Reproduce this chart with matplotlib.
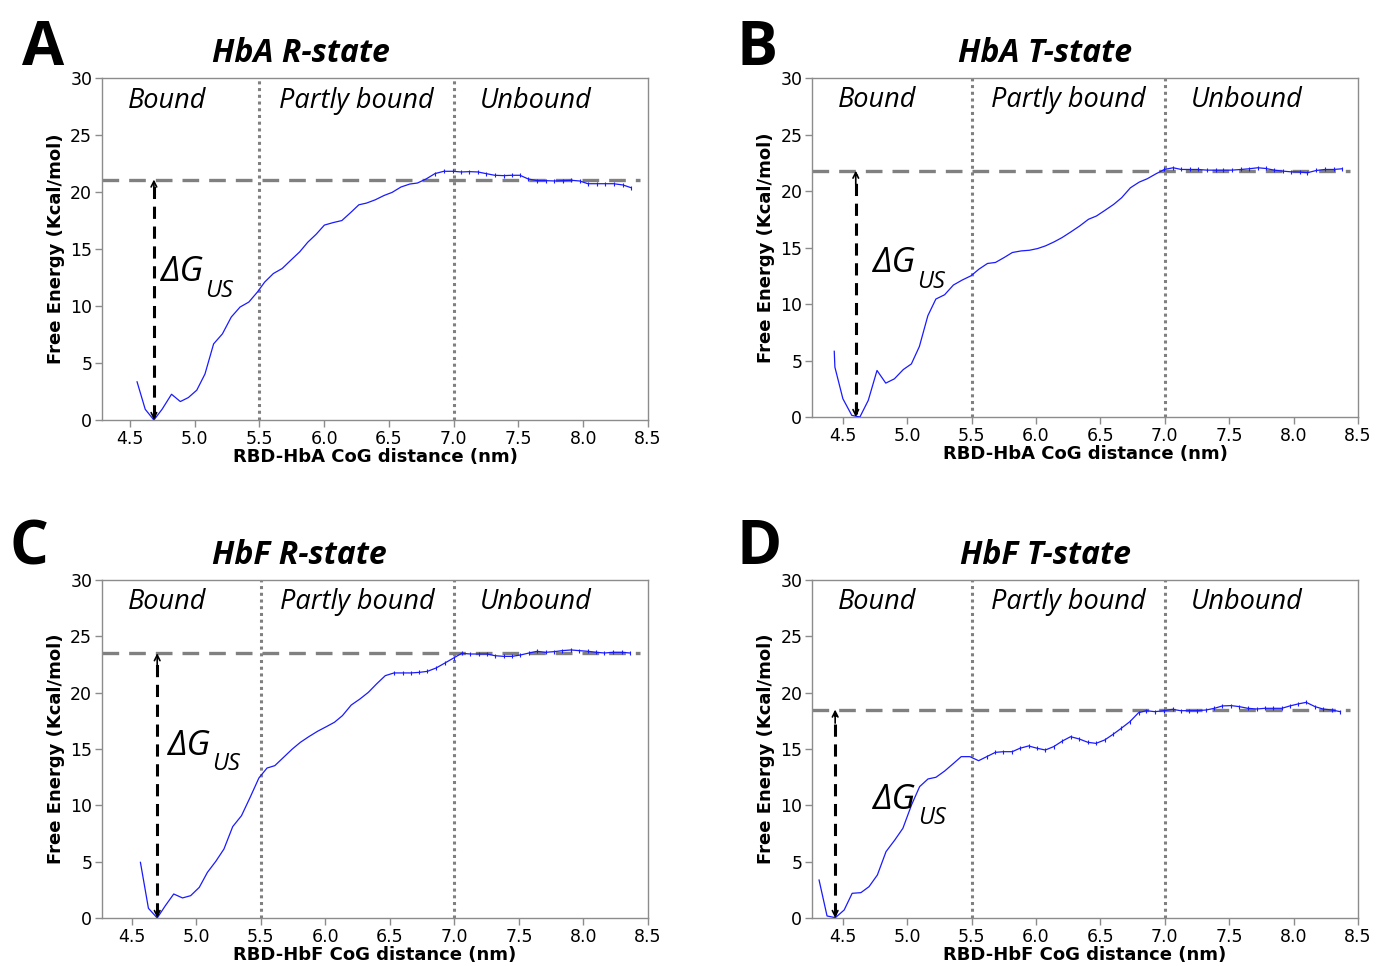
import matplotlib
matplotlib.use("Agg")
import matplotlib.pyplot as plt

# ---- data ----
x_a = [4.556, 4.619, 4.686, 4.749, 4.822, 4.890, 4.952, 5.017, 5.080, 5.147, 5.215, 5.283, 5.351, 5.419,
       5.486, 5.541, 5.608, 5.676, 5.744, 5.812, 5.874, 5.939, 6.002, 6.070, 6.137, 6.205, 6.268, 6.327,
       6.395, 6.463, 6.525, 6.593, 6.661, 6.720, 6.788, 6.856, 6.924, 6.992, 7.060, 7.122, 7.187, 7.249,
       7.317, 7.385, 7.447, 7.512, 7.575, 7.643, 7.710, 7.778, 7.841, 7.908, 7.973, 8.036, 8.104, 8.172,
       8.234, 8.307, 8.370]
y_a = [3.35, 0.94, 0.0, 0.94, 2.26, 1.62, 1.97, 2.62, 4.03, 6.68, 7.56, 9.03, 9.91, 10.35,
       11.24, 12.1, 12.85, 13.29, 14.03, 14.76, 15.6, 16.3, 17.1, 17.32, 17.5, 18.2, 18.88, 19.03,
       19.32, 19.7, 19.97, 20.44, 20.7, 20.79, 21.15, 21.62, 21.82, 21.82, 21.76, 21.79, 21.76, 21.62,
       21.47, 21.44, 21.47, 21.47, 21.15, 21.0, 21.0, 20.97, 21.0, 21.03, 20.97, 20.73, 20.73, 20.73,
       20.73, 20.62, 20.38]

x_b = [4.433, 4.438, 4.500, 4.569, 4.632, 4.697, 4.765, 4.833, 4.900, 4.969, 5.032, 5.094, 5.160, 5.222,
       5.290, 5.358, 5.426, 5.495, 5.557, 5.623, 5.685, 5.753, 5.816, 5.884, 5.949, 6.012, 6.074, 6.140,
       6.202, 6.270, 6.339, 6.407, 6.469, 6.535, 6.603, 6.665, 6.733, 6.801, 6.864, 6.932, 6.997, 7.065,
       7.128, 7.196, 7.259, 7.327, 7.395, 7.455, 7.523, 7.591, 7.654, 7.722, 7.782, 7.850, 7.918, 7.980,
       8.048, 8.108, 8.176, 8.244, 8.312, 8.375]
y_b = [5.82, 4.41, 1.62, 0.15, 0.0, 1.47, 4.12, 3.0, 3.38, 4.2, 4.7, 6.24, 8.97, 10.44,
       10.82, 11.68, 12.12, 12.5, 13.09, 13.59, 13.68, 14.12, 14.56, 14.7, 14.76, 14.91, 15.15, 15.5,
       15.88, 16.38, 16.91, 17.5, 17.79, 18.29, 18.82, 19.41, 20.29, 20.79, 21.09, 21.53, 21.91, 22.06,
       21.91, 21.91, 21.91, 21.85, 21.85, 21.85, 21.85, 21.91, 21.97, 22.06, 22.0, 21.85, 21.76, 21.7,
       21.68, 21.62, 21.82, 21.91, 21.91, 21.97]

x_c = [4.568, 4.630, 4.698, 4.761, 4.826, 4.894, 4.957, 5.024, 5.087, 5.152, 5.215, 5.283, 5.351, 5.418,
       5.486, 5.549, 5.609, 5.677, 5.745, 5.807, 5.872, 5.940, 6.008, 6.071, 6.133, 6.201, 6.269, 6.334,
       6.397, 6.465, 6.533, 6.601, 6.663, 6.728, 6.791, 6.859, 6.927, 6.995, 7.057, 7.125, 7.190, 7.253,
       7.315, 7.383, 7.448, 7.511, 7.579, 7.641, 7.707, 7.774, 7.837, 7.905, 7.967, 8.035, 8.100, 8.163,
       8.231, 8.299, 8.361]
y_c = [4.94, 0.86, 0.0, 1.09, 2.13, 1.78, 1.98, 2.72, 4.05, 5.03, 6.12, 8.11, 9.08, 10.71,
       12.43, 13.31, 13.52, 14.26, 15.0, 15.59, 16.09, 16.57, 16.98, 17.37, 17.96, 18.9, 19.44, 20.03,
       20.77, 21.51, 21.75, 21.75, 21.75, 21.8, 21.89, 22.19, 22.63, 23.08, 23.49, 23.43, 23.43, 23.43,
       23.28, 23.22, 23.22, 23.34, 23.52, 23.67, 23.58, 23.64, 23.73, 23.79, 23.73, 23.67, 23.58, 23.52,
       23.58, 23.58, 23.52]

x_d = [4.315, 4.377, 4.442, 4.510, 4.572, 4.640, 4.703, 4.768, 4.835, 4.903, 4.966, 5.033, 5.096, 5.161,
       5.223, 5.291, 5.354, 5.419, 5.486, 5.554, 5.617, 5.684, 5.747, 5.815, 5.874, 5.942, 6.010, 6.072,
       6.137, 6.205, 6.268, 6.335, 6.403, 6.466, 6.533, 6.598, 6.661, 6.729, 6.796, 6.856, 6.924, 6.992,
       7.060, 7.122, 7.190, 7.252, 7.320, 7.385, 7.447, 7.515, 7.578, 7.645, 7.713, 7.778, 7.841, 7.908,
       7.971, 8.036, 8.098, 8.166, 8.228, 8.296, 8.364]
y_d = [3.37, 0.18, 0.03, 0.71, 2.19, 2.25, 2.78, 3.82, 5.89, 6.92, 7.96, 10.03, 11.66, 12.34,
       12.49, 13.05, 13.67, 14.32, 14.32, 13.96, 14.32, 14.7, 14.76, 14.76, 15.06, 15.27, 15.06, 14.91,
       15.21, 15.71, 16.09, 15.89, 15.59, 15.5, 15.8, 16.3, 16.83, 17.43, 18.22, 18.4, 18.31, 18.4,
       18.52, 18.4, 18.4, 18.4, 18.46, 18.61, 18.82, 18.85, 18.76, 18.61, 18.55, 18.61, 18.61, 18.61,
       18.82, 19.0, 19.14, 18.76, 18.55, 18.46, 18.31]

letters = ["A", "B", "C", "D"]
titles = ["HbA R-state", "HbA T-state", "HbF R-state", "HbF T-state"]
xlabels = ["RBD-HbA CoG distance (nm)", "RBD-HbA CoG distance (nm)",
           "RBD-HbF CoG distance (nm)", "RBD-HbF CoG distance (nm)"]
dg_levels = [21.1, 21.8, 23.5, 18.5]
min_pos = [4.686, 4.60, 4.698, 4.44]
region_names = ["Bound", "Partly bound", "Unbound"]
region_bounds = [5.5, 7.0]

# ---- layout (figure fractions) ----
axes_rect = [
    [0.0741, 0.5652, 0.3968, 0.3540],
    [0.5901, 0.5683, 0.3968, 0.3509],
    [0.0741, 0.0497, 0.3968, 0.3499],
    [0.5901, 0.0497, 0.3968, 0.3499],
]
xlims = [(4.285, 8.5), (4.26, 8.5), (4.27, 8.5), (4.26, 8.5)]
dg_text_pos = [(4.74, 12.2), (4.73, 12.8), (4.78, 14.5), (4.735, 9.7)]
marker_from = [6.85, 6.95, 6.5, 5.6]
letter_pos = [(0.016, 0.9327), (0.535, 0.9327), (0.007, 0.416), (0.535, 0.416)]
title_x = [0.2015, 0.267, 0.2015, 0.271]

fig = plt.figure(figsize=(13.76, 9.66), dpi=100)

gray_spine = "#8c8c8c"
title_font = dict(family=["Open Sans", "DejaVu Sans"], style="italic", weight="bold", size=23)
region_font = dict(family=["Open Sans", "DejaVu Sans"], style="italic", size=19.5)
dg_font = dict(family=["Open Sans", "DejaVu Sans"], style="italic")

series = [(x_a, y_a), (x_b, y_b), (x_c, y_c), (x_d, y_d)]

for i, (xs, ys) in enumerate(series):
    ax = fig.add_axes(axes_rect[i])

    ax.plot(xs, ys, color="#1a1aff", lw=0.9, zorder=3)
    # little error-bar ticks on the flat part
    mx = [x for x in xs if x >= marker_from[i]]
    my = [y for x, y in zip(xs, ys) if x >= marker_from[i]]
    ax.plot(mx, my, ls="none", marker="|", ms=3.5, mew=0.8, color="#1a1aff", zorder=3)

    for b in region_bounds:
        ax.axvline(b, color="#808080", ls=(0, (1, 1.2)), lw=2.2, zorder=2)
    ax.axhline(dg_levels[i], xmin=0, xmax=0.985, color="#808080", ls=(0, (5, 3)), lw=2.4, zorder=2)

    # dashed double arrow for the free energy difference
    xm = min_pos[i]
    ax.plot([xm, xm], [0.3, dg_levels[i] - 0.3], color="black", ls=(0, (4, 2.5)), lw=2.2, zorder=4)
    ax.annotate("", xy=(xm, 0.0), xytext=(xm, 1.2),
                arrowprops=dict(arrowstyle="->", color="black", lw=1.2, mutation_scale=10, shrinkA=0, shrinkB=0))
    ax.annotate("", xy=(xm, dg_levels[i]), xytext=(xm, dg_levels[i] - 1.2),
                arrowprops=dict(arrowstyle="->", color="black", lw=1.2, mutation_scale=10, shrinkA=0, shrinkB=0))

    t = ax.text(dg_text_pos[i][0], dg_text_pos[i][1], "ΔG", fontsize=25, va="baseline", ha="left",
                zorder=5, **dg_font)
    ax.annotate("US", xy=(1, 0), xycoords=t, xytext=(1, -5.5), textcoords="offset points",
                fontsize=17, va="baseline", ha="left", zorder=5, **dg_font)

    region_x = [xlims[i][0] + 0.2, 5.65, 7.2]
    for rx, name in zip(region_x, region_names):
        ax.text(rx, 27.4, name, va="baseline", ha="left", **region_font)

    ax.set_xlim(*xlims[i])
    ax.set_ylim(0, 30)
    ax.set_xticks([4.5, 5.0, 5.5, 6.0, 6.5, 7.0, 7.5, 8.0, 8.5])
    ax.set_yticks([0, 5, 10, 15, 20, 25, 30])
    ax.tick_params(labelsize=12.5, color=gray_spine, length=5, width=1, pad=2)
    for sp in ax.spines.values():
        sp.set_color(gray_spine)
        sp.set_linewidth(1.0)

    ax.set_xlabel(xlabels[i], fontsize=13, fontweight="bold", labelpad=0)
    ax.set_ylabel("Free Energy (Kcal/mol)", fontsize=13, fontweight="bold", labelpad=4)

    ax.text(title_x[i], 1.047, titles[i], transform=ax.transAxes, ha="left", va="baseline", **title_font)
    fig.text(letter_pos[i][0], letter_pos[i][1], letters[i], fontsize=44, fontweight="bold",
             family=["Open Sans", "DejaVu Sans"], va="baseline", ha="left")

fig.savefig("out.png", dpi=100)
